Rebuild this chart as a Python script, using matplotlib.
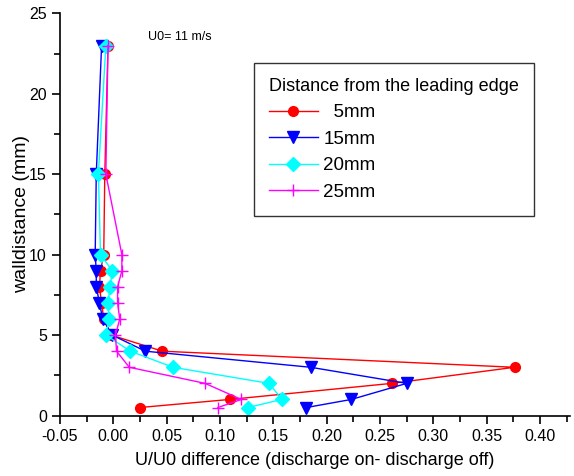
import matplotlib
matplotlib.use("Agg")
import matplotlib.pyplot as plt
from matplotlib.ticker import MultipleLocator

plt.rcParams['font.family'] = ['Liberation Sans', 'DejaVu Sans']

# wall distance (mm) for each measurement point
wall = [23, 15, 10, 9, 8, 7, 6, 5, 4, 3, 2, 1, 0.5]

# U/U0 difference (discharge on - discharge off)
d5 = [-0.005, -0.008, -0.009, -0.012, -0.013, -0.011, -0.009, -0.002,
      0.046, 0.376, 0.261, 0.109, 0.025]
d15 = [-0.011, -0.016, -0.017, -0.016, -0.016, -0.013, -0.010, -0.001,
       0.030, 0.185, 0.275, 0.223, 0.181]
d20 = [-0.007, -0.014, -0.012, -0.001, -0.003, -0.005, -0.004, -0.007,
       0.016, 0.056, 0.146, 0.158, 0.126]
d25 = [-0.005, -0.007, 0.008, 0.008, 0.004, 0.004, 0.006, 0.002,
       0.003, 0.015, 0.086, 0.120, 0.098]

labels = ["  5mm", "15mm", "20mm", "25mm"]

fig = plt.figure(figsize=(5.74, 4.76), dpi=100)
ax = fig.add_axes([0.1045, 0.127, 0.8885, 0.845])

ax.plot(d5, wall, color="red", marker="o", ms=7, lw=1, mec="red", label=labels[0])
ax.plot(d15, wall, color="blue", marker="v", ms=9, lw=1, mec="blue", label=labels[1])
ax.plot(d20, wall, color="cyan", marker="D", ms=7, lw=1, mec="cyan", label=labels[2])
ax.plot(d25, wall, color="magenta", marker="+", ms=9, mew=1, lw=1, label=labels[3])

ax.set_xlim(-0.05, 0.428)
ax.set_ylim(0, 25)
ax.xaxis.set_minor_locator(MultipleLocator(0.025))
ax.yaxis.set_major_locator(MultipleLocator(5))
ax.yaxis.set_minor_locator(MultipleLocator(2.5))
ax.set_xticks([-0.05 + 0.05 * i for i in range(10)])
ax.set_xticklabels(["-0.05", "0.00", "0.05", "0.10", "0.15", "0.20",
                    "0.25", "0.30", "0.35", "0.40"])

for s in ["top", "right"]:
    ax.spines[s].set_visible(False)
for s in ["left", "bottom"]:
    ax.spines[s].set_linewidth(1.2)
ax.tick_params(which="major", direction="out", length=6, width=1.2, labelsize=11.5)
ax.tick_params(which="minor", direction="out", length=4, width=1.2)

ax.set_xlabel("U/U0 difference (discharge on- discharge off)", fontsize=13, labelpad=6)
ax.set_ylabel("walldistance (mm)", fontsize=14, labelpad=-1)

ax.text(0.1725, 0.941, "U0= 11 m/s", transform=ax.transAxes, fontsize=9, va="center")

leg = ax.legend(title="Distance from the leading edge", loc="upper left",
                bbox_to_anchor=(0.38, 0.877), borderaxespad=0, fontsize=13.5,
                title_fontsize=13, numpoints=1, handlelength=2.6, handletextpad=0.3,
                fancybox=False, frameon=True, edgecolor="black", borderpad=0.8,
                labelspacing=0.5)
leg.get_frame().set_linewidth(1)
leg._legend_box.align = "left"

fig.savefig("out.png", dpi=100)
